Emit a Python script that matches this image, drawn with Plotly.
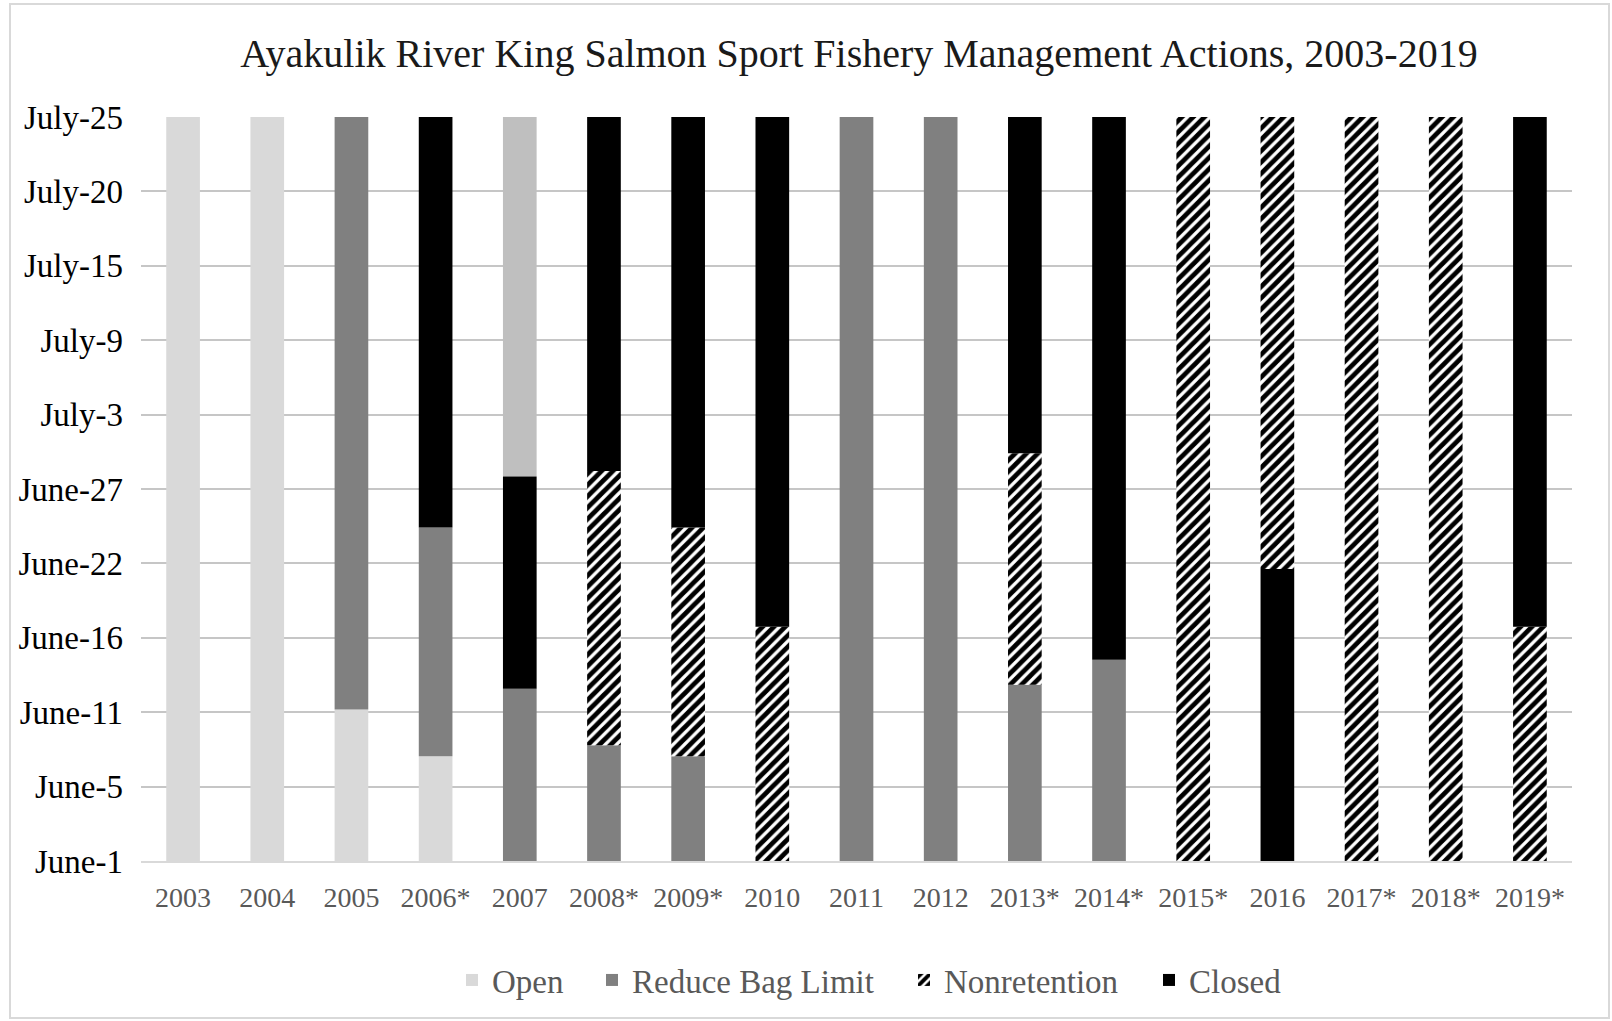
import plotly.graph_objects as go
import numpy as np

# Years (category labels)
years = ["2003", "2004", "2005", "2006*", "2007", "2008*", "2009*", "2010", "2011",
         "2012", "2013*", "2014*", "2015*", "2016", "2017*", "2018*", "2019*"]

# Y-axis tick labels (evenly spaced on the chart, spanning June 1 -> July 25 = 54 days)
tick_labels = ["June-1", "June-5", "June-11", "June-16", "June-22", "June-27",
               "July-3", "July-9", "July-15", "July-20", "July-25"]
season_days = 54

N = None
# Segment start / end for each action, in days after June 1
open_start = [0, 0, 0, 0, 27.9, N, N, N, N, N, N, N, N, N, N, N, N]
open_end   = [54, 54, 11, 7.6, 54, N, N, N, N, N, N, N, N, N, N, N, N]

reduce_start = [N, N, 11, 7.6, 0, 0, 0, N, 0, 0, 0, 0, N, N, N, N, N]
reduce_end   = [N, N, 54, 24.2, 12.5, 8.4, 7.6, N, 54, 54, 12.8, 14.6, N, N, N, N, N]

nonret_start = [N, N, N, N, N, 8.4, 7.6, 0, N, N, 12.8, N, 0, 21.2, 0, 0, 0]
nonret_end   = [N, N, N, N, N, 28.3, 24.2, 17, N, N, 29.6, N, 54, 54, 54, 54, 17]

closed_start = [N, N, N, 24.2, 12.5, 28.3, 24.2, 17, N, N, 29.6, 14.6, N, 0, N, N, 17]
closed_end   = [N, N, N, 54, 27.9, 54, 54, 54, N, N, 54, 54, N, 21.2, N, N, 54]

# Open bar for 2007 is a slightly darker grey in the original
open_colors = ["#d9d9d9", "#d9d9d9", "#d9d9d9", "#d9d9d9", "#bfbfbf"] + ["#d9d9d9"] * 12


def seg(start, end):
    base = [s if s is not None else 0 for s in start]
    length = [(e - s) if (s is not None and e is not None) else None for s, e in zip(start, end)]
    return base, length


FONT = "Liberation Serif, Times New Roman, serif"

# plot area: x 141..1572, y 117..861
L, R, T, B = 141, 40, 117, 160
W, H = 1612, 1021
pw, ph = W - L - R, H - T - B

fig = go.Figure()

b, l = seg(open_start, open_end)
fig.add_trace(go.Bar(x=years, y=l, base=b, name="Open", width=0.4, legend="legend",
                     marker=dict(color=open_colors, line=dict(width=0))))
b, l = seg(reduce_start, reduce_end)
fig.add_trace(go.Bar(x=years, y=l, base=b, name="Reduce Bag Limit", width=0.4, legend="legend2",
                     marker=dict(color="#808080", line=dict(width=0))))
b, l = seg(nonret_start, nonret_end)
fig.add_trace(go.Bar(x=years, y=l, base=b, name="Nonretention", width=0.4, legend="legend3",
                     marker=dict(color="white", line=dict(width=0),
                                 pattern=dict(shape="/", fgcolor="#000000", bgcolor="#ffffff",
                                              fgopacity=1, fillmode="replace",
                                              size=8, solidity=0.6))))
b, l = seg(closed_start, closed_end)
fig.add_trace(go.Bar(x=years, y=l, base=b, name="Closed", width=0.4, legend="legend4",
                     marker=dict(color="black", line=dict(width=0))))

tickvals = list(np.linspace(0, season_days, len(tick_labels)))

leg_y = (861 - 980) / ph
swatch_offset = 16


def leg(px):
    return dict(orientation="h", x=(px - swatch_offset - L) / pw, xanchor="left",
                y=leg_y, yanchor="middle", itemwidth=30,
                font=dict(family=FONT, size=33, color="#595959"), bgcolor="rgba(0,0,0,0)")


fig.update_layout(
    width=W, height=H,
    margin=dict(l=L, r=R, t=T, b=B, pad=0),
    paper_bgcolor="white", plot_bgcolor="white",
    barmode="overlay",
    title=dict(text="Ayakulik River King Salmon Sport Fishery Management Actions, 2003-2019",
               x=(859 - L) / pw, xanchor="center", xref="paper",
               y=1 - 53 / H, yanchor="middle", yref="container",
               font=dict(family=FONT, size=40, color="#1a1a1a")),
    font=dict(family=FONT),
    showlegend=True,
    legend=leg(468), legend2=leg(608), legend3=leg(920), legend4=leg(1165),
    xaxis=dict(type="category", showgrid=False, showline=True, linecolor="#d9d9d9", linewidth=2,
               ticks="", tickfont=dict(family=FONT, size=28, color="#595959"), ticklabelstandoff=10),
    yaxis=dict(range=[0, season_days], tickvals=tickvals, ticktext=tick_labels,
               showgrid=True, gridcolor="#c6c6c6", gridwidth=2, zeroline=False, showline=False,
               ticks="", tickfont=dict(family=FONT, size=33, color="#000000"), ticklabelstandoff=17),
    shapes=[dict(type="rect", xref="paper", yref="paper",
                 x0=(10 - L) / pw, x1=(1609 - L) / pw,
                 y0=(861 - 1018) / ph, y1=(861 - 4) / ph,
                 line=dict(color="#d9d9d9", width=2), fillcolor="rgba(0,0,0,0)", layer="below")],
)

fig.write_html("out.html", config={"displayModeBar": False},
               post_script="document.body.style.margin='0';")
